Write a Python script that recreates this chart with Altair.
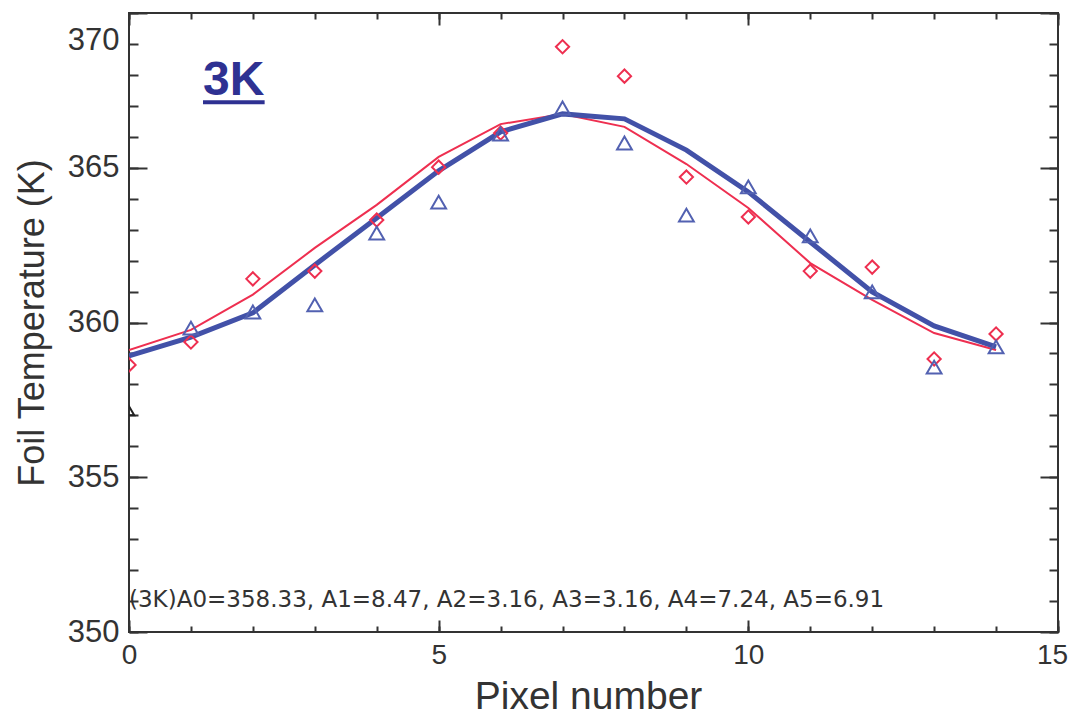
import altair as alt
import pandas as pd

# ---- data ----
pixel = list(range(15))
red_pts = [358.63, 359.37, 361.41, 361.66, 363.31, 365.02, 366.12, 368.91,
           367.96, 364.70, 363.41, 361.66, 361.79, 358.82, 359.63]
blue_pts = [None, 359.82, 360.34, 360.57, 362.89, 363.89, 366.09, 366.93,
            365.80, 363.47, 364.38, 362.80, 360.99, 358.56, 359.21]
red_fit = [359.11, 359.76, 360.90, 362.41, 363.80, 365.35, 366.41, 366.74,
           366.32, 365.12, 363.70, 361.92, 360.73, 359.66, 359.11]
blue_fit = [358.92, 359.53, 360.31, 361.86, 363.38, 364.90, 366.16, 366.74,
            366.58, 365.57, 364.22, 362.60, 360.99, 359.89, 359.21]
extra_x = [0]
extra_y = [357.15]

x_domain = [0, 15]
y_domain = [350, 370]
x_major = [0, 5, 10, 15]
x_minor = list(range(0, 16))
y_major = [350, 355, 360, 365, 370]
y_minor = list(range(350, 371))

fit_text = "(3K)A0=358.33, A1=8.47, A2=3.16, A3=3.16, A4=7.24, A5=6.91"
label_text = "3K"

RED = "#ee2f50"
BLUE_LINE = "#4251a8"
BLUE_PT = "#5261b1"
DARK = "#333333"
TITLE_BLUE = "#2e3192"

W, H = 929, 619

xs = alt.Scale(domain=x_domain, nice=False, zero=False)
ys = alt.Scale(domain=y_domain, nice=False, zero=False)

df = pd.DataFrame({"pixel": pixel, "red": red_pts, "blue": blue_pts,
                   "red_fit": red_fit, "blue_fit": blue_fit})

x_axis = alt.Axis(values=x_major, ticks=False, domain=False, grid=False,
                  labelFontSize=28, labelFont="Liberation Sans", labelColor=DARK,
                  labelPadding=9, labelFlush=False,
                  labelOffset=alt.condition("datum.value == 15", alt.value(-6), alt.value(0)),
                  title="Pixel number", titleFontSize=39, titleFont="Liberation Sans",
                  titleFontWeight="normal", titleColor=DARK,
                  titleX=459, titleAlign="center",
                  titleY=76, titleBaseline="alphabetic")
y_axis = alt.Axis(values=y_major, ticks=False, domain=False, grid=False,
                  labelFontSize=31, labelFont="Liberation Sans", labelColor=DARK,
                  labelPadding=10, labelFlush=False,
                  labelOffset=alt.condition("datum.value == 370", alt.value(27), alt.value(0)),
                  title="Foil Temperature (K)", titleFontSize=36,
                  titleFont="Liberation Sans", titleFontWeight="normal", titleColor=DARK,
                  titleX=-86, titleBaseline="alphabetic")

X = alt.X("pixel:Q", scale=xs, axis=x_axis)

base = alt.Chart(df)
red_line = base.mark_line(color=RED, strokeWidth=2, clip=True).encode(
    x=X, y=alt.Y("red_fit:Q", scale=ys, axis=y_axis))
blue_line = base.mark_line(color=BLUE_LINE, strokeWidth=5, clip=True).encode(
    x=X, y=alt.Y("blue_fit:Q", scale=ys, axis=y_axis))
red_marks = base.mark_point(shape="diamond", filled=False, size=175, strokeWidth=2,
                            color=RED, opacity=1, clip=True).encode(
    x=X, y=alt.Y("red:Q", scale=ys, axis=y_axis))
blue_marks = base.mark_point(shape="triangle-up", filled=False, size=220, strokeWidth=2,
                             color=BLUE_PT, opacity=1, clip=True).encode(
    x=X, y=alt.Y("blue:Q", scale=ys, axis=y_axis))

extra_df = pd.DataFrame({"pixel": extra_x, "v": extra_y})
extra_marks = alt.Chart(extra_df).mark_point(shape="triangle-up", filled=False, size=110,
                                             strokeWidth=2, color="#222222", opacity=1,
                                             clip=True).encode(
    x=X, y=alt.Y("v:Q", scale=ys, axis=y_axis))

ann_df = pd.DataFrame({"pixel": [0.0], "v": [350.81], "t": [fit_text]})
ann = alt.Chart(ann_df).mark_text(font="DejaVu Sans", fontSize=23, color=DARK,
                                  align="left", baseline="alphabetic").encode(
    x=X, y=alt.Y("v:Q", scale=ys, axis=y_axis), text="t:N")

lab_df = pd.DataFrame({"pixel": [1.195], "v": [367.35], "t": [label_text],
                       "x2": [2.19], "uv": [367.12]})
lab = alt.Chart(lab_df).mark_text(font="Liberation Sans", fontSize=48, fontWeight="bold",
                                  color=TITLE_BLUE, align="left",
                                  baseline="alphabetic").encode(
    x=X, y=alt.Y("v:Q", scale=ys, axis=y_axis), text="t:N")
underline = alt.Chart(lab_df).mark_rule(color=TITLE_BLUE, strokeWidth=4).encode(
    x=alt.X("pixel:Q", scale=xs, axis=x_axis), x2="x2:Q",
    y=alt.Y("uv:Q", scale=ys, axis=y_axis))

data_layer = alt.layer(red_line, blue_line, red_marks, blue_marks, extra_marks,
                       ann, lab, underline)

# ---- inward ticks on all four sides, drawn by extra axes ----
dom_df = pd.DataFrame({"x": x_domain, "y": y_domain})


def tick_layer(xo, yo, xv, yv, xl, yl):
    return alt.Chart(dom_df).mark_point(opacity=0).encode(
        x=alt.X("x:Q", scale=xs,
                axis=alt.Axis(orient=xo, values=xv, tickSize=xl, offset=-xl,
                              labels=False, domain=False, grid=False, title=None,
                              tickColor=DARK, tickWidth=2)),
        y=alt.Y("y:Q", scale=ys,
                axis=alt.Axis(orient=yo, values=yv, tickSize=yl, offset=-yl,
                              labels=False, domain=False, grid=False, title=None,
                              tickColor=DARK, tickWidth=2)),
    )


t1 = tick_layer("bottom", "left", x_major, y_major, 12, 18)
t2 = tick_layer("bottom", "left", x_minor, y_minor, 6, 9)
t3 = tick_layer("top", "right", x_major, y_major, 12, 18)
t4 = tick_layer("top", "right", x_minor, y_minor, 6, 9)

chart = alt.layer(data_layer, t1, t2, t3, t4).resolve_scale(
    x="independent", y="independent"
).properties(
    width=W, height=H,
    autosize=alt.AutoSizeParams(type="none"),
    padding={"left": 129, "top": 13, "right": 15, "bottom": 86},
    background="white",
).configure_view(stroke=DARK, strokeWidth=2)

chart.save("out.html", embed_options={"renderer": "svg", "actions": False})
